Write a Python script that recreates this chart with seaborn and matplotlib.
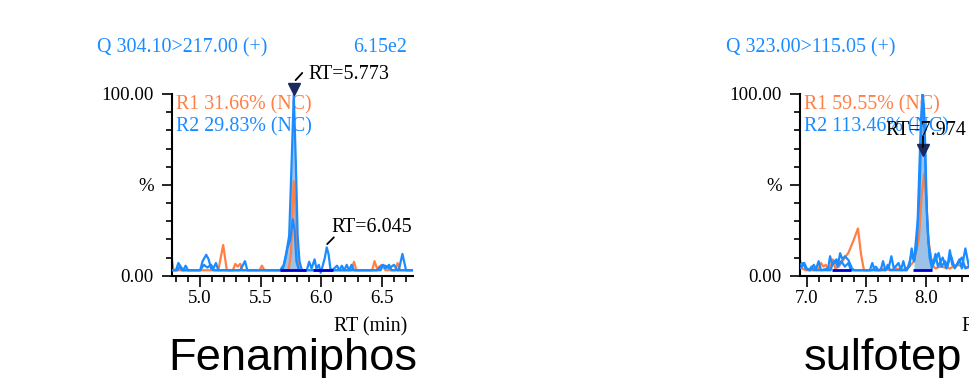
import matplotlib
matplotlib.use("Agg")
import matplotlib.pyplot as plt
from matplotlib.ticker import MultipleLocator
import seaborn as sns

sns.set_style("ticks")
plt.rcParams["font.family"] = ["Liberation Serif", "DejaVu Serif"]
plt.rcParams["text.color"] = "black"
plt.rcParams["xtick.color"] = "black"
plt.rcParams["ytick.color"] = "black"
plt.rcParams["axes.edgecolor"] = "black"

ORANGE = "#FF7F45"
BLUE = "#1A8CFF"
NAVY = "#1B2A5E"
BASE_BLUE = "#0000CD"
FILL = "#9DC2E8"

# ---- Fenamiphos (left panel) ----
fen_q_t = [4.765, 4.80, 4.82, 4.84, 4.86, 4.88, 4.90, 5.00, 5.02, 5.05, 5.07, 5.09, 5.11, 5.33, 5.37, 5.39,
           5.66, 5.69, 5.71, 5.735, 5.755, 5.773, 5.79, 5.805, 5.82, 5.84, 5.88, 5.90, 5.92, 5.945, 5.96,
           5.98, 5.995, 6.01, 6.03, 6.045, 6.06, 6.075, 6.09, 6.13, 6.15, 6.17, 6.19, 6.21, 6.23, 6.25,
           6.27, 6.49, 6.51, 6.53, 6.56, 6.58, 6.64, 6.67, 6.70, 6.755]
fen_q_v = [3, 3, 7, 5, 3, 5.5, 3, 3, 8, 11.5, 9, 4, 3, 3, 8, 3,
           3, 6, 12, 22, 62, 100, 62, 22, 8, 3, 3, 7.7, 4, 9, 4,
           6, 1.6, 5, 10, 15.6, 12, 4, 3, 5.5, 3, 5.5, 3, 6, 3, 6,
           3, 3, 6, 4, 6, 3, 3, 12, 3, 3]
fen_r2_t = [4.765, 4.81, 4.83, 4.85, 5.00, 5.03, 5.06, 5.09, 5.11, 5.13, 5.15, 5.68, 5.70, 5.72, 5.745,
            5.765, 5.78, 5.795, 5.815, 6.46, 6.50, 6.53, 6.56, 6.60, 6.63, 6.755]
fen_r2_v = [3, 3, 5, 3, 3, 6, 4.5, 6, 4, 7, 3, 3, 8, 15, 20,
            31, 25, 8, 3, 3, 5.5, 5.5, 4, 6, 3, 3]
fen_r1_t = [4.765, 4.78, 5.15, 5.17, 5.19, 5.205, 5.22, 5.27, 5.29, 5.31, 5.33, 5.35, 5.49, 5.51, 5.53,
            5.73, 5.75, 5.772, 5.785, 5.80, 5.82, 6.25, 6.27, 6.29, 6.42, 6.44, 6.46, 6.50, 6.53, 6.61,
            6.63, 6.65, 6.755]
fen_r1_v = [9.7, 3, 3, 10, 16.9, 10, 3, 3, 6.5, 5, 6.5, 3, 3, 5.5, 3,
            3, 12, 52, 40, 10, 3, 3, 7.7, 3, 3, 8, 4, 6, 3, 3,
            7, 3, 3]
fen_base = [(5.663, 5.87), (5.93, 6.10)]
fen_fill = (5.663, 5.87)

# ---- sulfotep (right panel) ----
sul_q_t = [6.944, 6.97, 6.99, 7.02, 7.04, 7.06, 7.08, 7.10, 7.12, 7.18, 7.196, 7.215, 7.24, 7.26, 7.28,
           7.30, 7.32, 7.35, 7.38, 7.40, 7.53, 7.55, 7.57, 7.62, 7.64, 7.66, 7.69, 7.71, 7.73, 7.77,
           7.79, 7.81, 7.83, 7.86, 7.88, 7.90, 7.92, 7.945, 7.965, 7.974, 7.985, 8.00, 8.02, 8.04, 8.06,
           8.08, 8.106, 8.13, 8.16, 8.18, 8.20, 8.22, 8.25, 8.28, 8.30, 8.33, 8.36, 8.40]
sul_q_v = [6, 7, 4, 3, 5, 3, 4, 8, 3, 4, 10.7, 6, 8, 5, 12.4,
           9, 10.7, 8.6, 4, 3, 3, 7, 3, 3, 8, 3, 5, 10.7, 4, 7,
           3, 8, 3, 5, 15, 8, 15, 45, 90, 100, 90, 45, 18, 10, 6,
           9, 12.5, 5, 8, 5, 14, 6, 5, 9, 4, 15, 5, 8]
sul_r2_t = [6.944, 6.96, 6.98, 7.00, 7.03, 7.06, 7.08, 7.20, 7.22, 7.25, 7.27, 7.29, 7.32, 7.35, 7.37,
            7.55, 7.58, 7.60, 7.66, 7.68, 7.70, 7.84, 7.86, 7.88, 7.90, 7.93, 7.955, 7.97, 7.99, 8.01,
            8.03, 8.05, 8.08, 8.10, 8.14, 8.17, 8.21, 8.24, 8.30, 8.33, 8.40]
sul_r2_v = [4, 5, 7, 4, 3, 6, 3, 3, 7, 9, 6, 8, 5, 7, 3,
            3, 5, 3, 3, 6, 3, 3, 7, 12, 8, 30, 80, 101, 80, 30,
            10, 4, 12, 5, 10, 4, 11, 4, 10, 4, 6]
sul_r1_t = [6.944, 6.96, 6.99, 7.08, 7.10, 7.12, 7.14, 7.16, 7.18, 7.20, 7.22, 7.24, 7.27, 7.29, 7.32,
            7.35, 7.39, 7.43, 7.455, 7.48, 7.60, 7.63, 7.70, 7.75, 7.80, 7.86, 7.90, 7.94, 7.965, 7.985,
            8.00, 8.02, 8.05, 8.08, 8.12, 8.20, 8.26, 8.32, 8.40]
sul_r1_v = [8.6, 4, 3, 3, 4, 7, 5, 6, 3, 5, 9, 4, 5, 7, 10,
            12.6, 19, 26, 12, 3, 3, 4, 3, 4, 3, 5, 8, 20, 45, 56,
            45, 20, 6, 4, 5, 4, 6, 5, 4]
sul_base = [(7.21, 7.37), (7.89, 8.05)]
sul_fill = (7.89, 8.05)

panels = [
    dict(name="Fenamiphos", left=171.7, xlim=(4.765, 6.755), major=[5.0, 5.5, 6.0, 6.5],
         trans="Q 304.10>217.00 (+)", inten="6.15e2", r1="R1 31.66% (NC)", r2="R2 29.83% (NC)",
         q=(fen_q_t, fen_q_v), r2d=(fen_r2_t, fen_r2_v), r1d=(fen_r1_t, fen_r1_v),
         base=fen_base, fill=fen_fill, title_x=292.5,
         rt=[dict(label="RT=5.773", tri=(5.773, 103), txt=(5.896, 111),
                  lead=((5.788, 5.843), (107.6, 111.6))),
             dict(label="RT=6.045", tri=None, txt=(6.084, 26.3),
                  lead=((6.049, 6.104), (17.4, 21.1)))]),
    dict(name="sulfotep", left=800.0, xlim=(6.944, 8.964), major=[7.0, 7.5, 8.0, 8.5],
         trans="Q 323.00>115.05 (+)", inten="", r1="R1 59.55% (NC)", r2="R2 113.46% (NC)",
         q=(sul_q_t, sul_q_v), r2d=(sul_r2_t, sul_r2_v), r1d=(sul_r1_t, sul_r1_v),
         base=sul_base, fill=sul_fill, title_x=883.0,
         rt=[dict(label="RT=7.974", tri=(7.974, 69), txt=(7.664, 80),
                  lead=((7.974, 7.974), (77, 71)))]),
]

W, H = 969, 378
fig = plt.figure(figsize=(W / 100, H / 100), dpi=100)
FS = 13.6    # tick labels
TS = 14.4    # other serif texts

for p in panels:
    ax = fig.add_axes([p["left"] / W, (H - 275.7) / H, 241 / W, 181.7 / H])
    ax.set_facecolor("none")

    t, v = p["q"]
    lo, hi = p["fill"]
    ft = [a for a in t if lo <= a <= hi]
    fv = [b for a, b in zip(t, v) if lo <= a <= hi]
    ax.fill_between(ft, 3, fv, color=FILL, lw=0, zorder=1)

    sns.lineplot(x=p["r1d"][0], y=p["r1d"][1], ax=ax, color=ORANGE, lw=1.6, zorder=2)
    sns.lineplot(x=p["r2d"][0], y=p["r2d"][1], ax=ax, color=BLUE, lw=1.6, zorder=3)
    sns.lineplot(x=t, y=v, ax=ax, color=BLUE, lw=1.6, zorder=4)

    for a, b in p["base"]:
        ax.plot([a, b], [3, 3], color=BASE_BLUE, lw=2, solid_capstyle="butt", zorder=5)

    for r in p["rt"]:
        if r["tri"] is not None:
            ax.plot(*r["tri"], marker="v", ms=8, color=NAVY, clip_on=False, zorder=6)
        ax.plot(*r["lead"], color="black", lw=1.3, clip_on=False, zorder=6)
        ax.text(r["txt"][0], r["txt"][1], r["label"], fontsize=TS, color="black",
                va="center", ha="left", clip_on=False, zorder=7)

    ax.set_xlim(*p["xlim"])
    ax.set_ylim(0, 100)
    ax.set_xticks(p["major"])
    ax.set_xticklabels([f"{m:.1f}" for m in p["major"]])
    ax.xaxis.set_minor_locator(MultipleLocator(0.1))
    ax.set_yticks([0, 50, 100])
    ax.set_yticklabels(["0.00", "%", "100.00"])
    ax.yaxis.set_minor_locator(MultipleLocator(10))
    ax.tick_params(axis="x", which="major", length=8, width=1.2, pad=2, labelsize=FS)
    ax.tick_params(axis="x", which="minor", length=4.5, width=1.2)
    ax.tick_params(axis="y", which="major", length=7, width=1.2, pad=6, labelsize=FS)
    ax.tick_params(axis="y", which="minor", length=4, width=1.2)
    ax.set_xlabel("")
    ax.set_ylabel("")
    for s in ("top", "right"):
        ax.spines[s].set_visible(False)
    for s in ("left", "bottom"):
        ax.spines[s].set_linewidth(1.5)

    ax.text(0.018, 94, p["r1"], transform=ax.get_yaxis_transform(), color=ORANGE,
            fontsize=TS, va="center", ha="left")
    ax.text(0.018, 82, p["r2"], transform=ax.get_yaxis_transform(), color=BLUE,
            fontsize=TS, va="center", ha="left")
    ax.text(0.976, -0.281, "RT (min)", transform=ax.transAxes, fontsize=TS,
            va="center", ha="right")

    fig.text((p["left"] - 74.5) / W, (H - 48) / H, p["trans"], color=BLUE, fontsize=TS,
             va="center", ha="left")
    if p["inten"]:
        fig.text((p["left"] + 235.5) / W, (H - 48) / H, p["inten"], color=BLUE,
                 fontsize=TS, va="center", ha="right")
    fig.text(p["title_x"] / W, 8 / H, p["name"], fontsize=32.6, color="black",
             family=["Liberation Sans", "DejaVu Sans"], ha="center", va="baseline")

fig.savefig("out.png", dpi=100)
